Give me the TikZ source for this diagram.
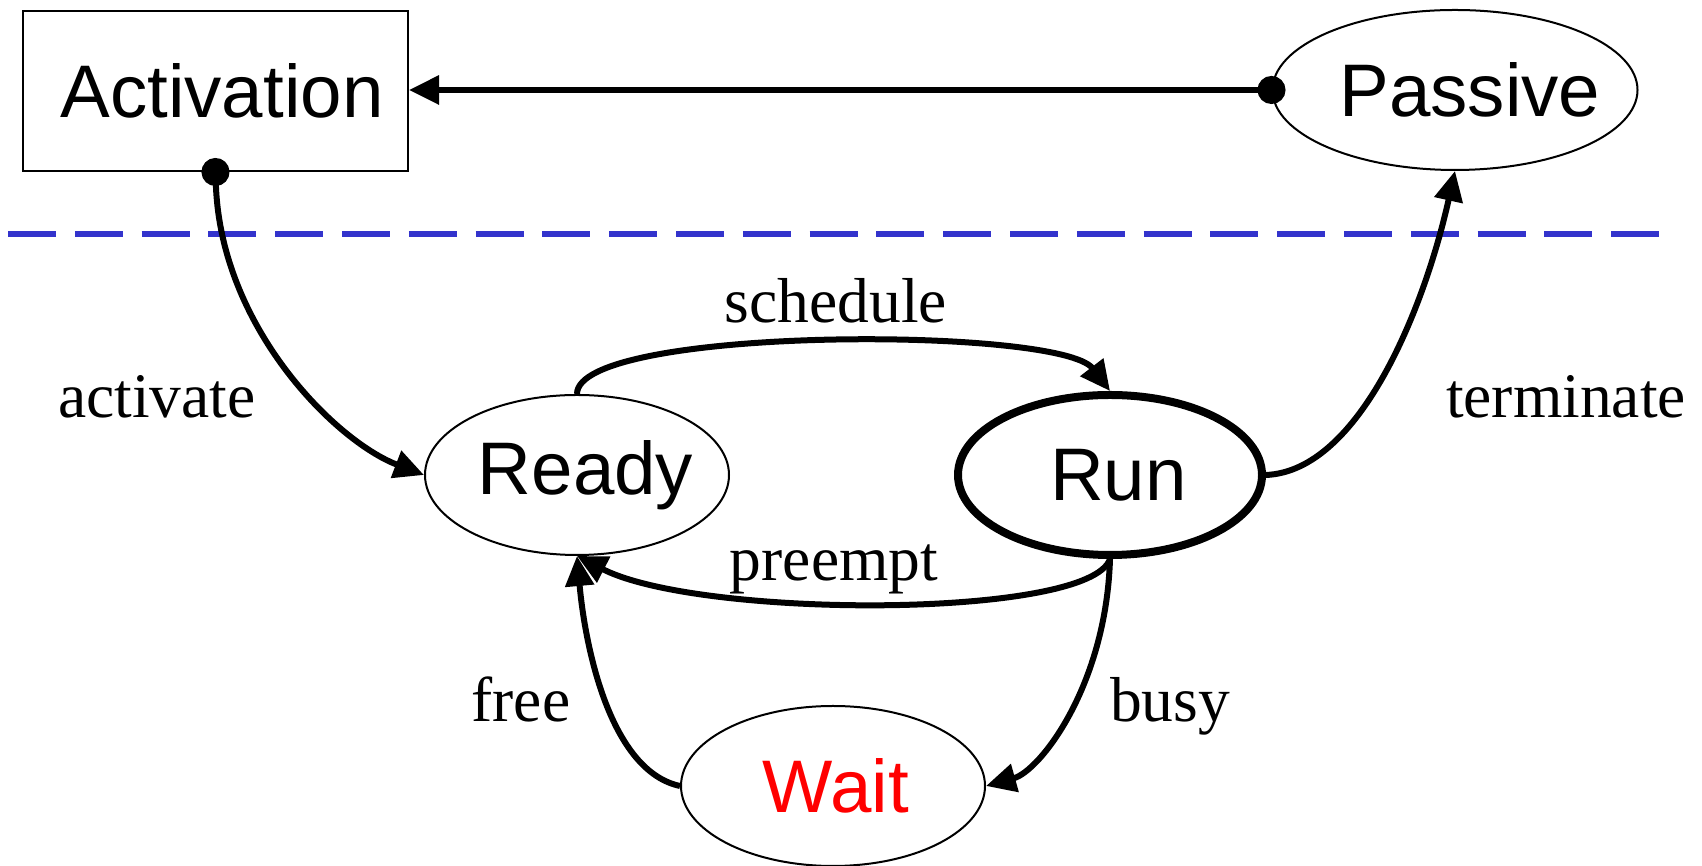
\documentclass[tikz,border=0pt]{standalone}
\usepackage{fontspec}
\setmainfont{Liberation Serif}
\setsansfont{Liberation Sans}
\usetikzlibrary{arrows.meta,shapes.geometric}
\definecolor{dashblue}{RGB}{51,51,204}
\newcommand{\shifted}[2]{\makebox[0pt]{\hspace*{#1}#2}}
\begin{document}
\begin{tikzpicture}[x=1pt,y=1pt,
  nodefont/.style={font=\sffamily\fontsize{74.5}{82}\selectfont},
  state/.style={ellipse, draw, line width=2pt, minimum width=304pt, minimum height=160pt, inner sep=0pt, nodefont},
  boxstate/.style={rectangle, draw, line width=2pt, minimum width=385pt, minimum height=160pt, inner sep=0pt, nodefont},
  conn/.style={line width=6pt, -{Triangle[length=30pt,width=28pt]}},
  dotconn/.style={line width=6pt, {Circle[length=28pt]}-{Triangle[length=30pt,width=28pt]}, shorten <=-14pt},
  lbl/.style={anchor=base, font=\fontsize{63.5}{70}\selectfont}]
\useasboundingbox (0,0) rectangle (1702,866);
% nodes
\node[boxstate] (act) at (215.5,775) {\shifted{13pt}{Activation}};
\node[state, minimum width=365pt] (pas) at (1455,776) {\shifted{30pt}{Passive}};
\node[state] (ready) at (577,391) {\shifted{17pt}{Ready}};
\node[state, line width=8pt] (run) at (1110,391) {\shifted{17pt}{Run}};
\node[state, text=red] (wait) at (833,80) {\shifted{6pt}{Wait}};
% dashed separator
\coordinate (dl) at (8,632);
\coordinate (dr) at (1659,632);
\draw[dashblue, line width=6pt, dash pattern=on 48pt off 18.8pt] (dl) -- (dr);
% connectors
\draw[dotconn] (pas.west) -- (pas.west -| act.east);
\draw[dotconn] (act.south) .. controls (220,540) and (335,425) .. (ready.west);
\draw[conn] (ready.north) .. controls (577,540) and (1060,540) .. (run.north);
\draw[conn] (run.east) .. controls (1360,395) and (1425,560) .. (pas.south);
\draw[conn] (run.south) .. controls (1090,247) and (700,247) .. (ready.south);
\draw[conn] (run.south) .. controls (1106,180) and (1040,95) .. (wait.east);
\draw[conn] (wait.west) .. controls (610,95) and (585,220) .. (ready.south);
% labels
\node[lbl] (lact) at (157,448) {activate};
\node[lbl] (lsch) at (836,543) {schedule};
\node[lbl] (lter) at (1566,448) {terminate};
\node[lbl] (lpre) at (834,285) {preempt};
\node[lbl] (lfree) at (521,144) {free};
\node[lbl] (lbusy) at (1170,144) {busy};
\end{tikzpicture}
\end{document}
